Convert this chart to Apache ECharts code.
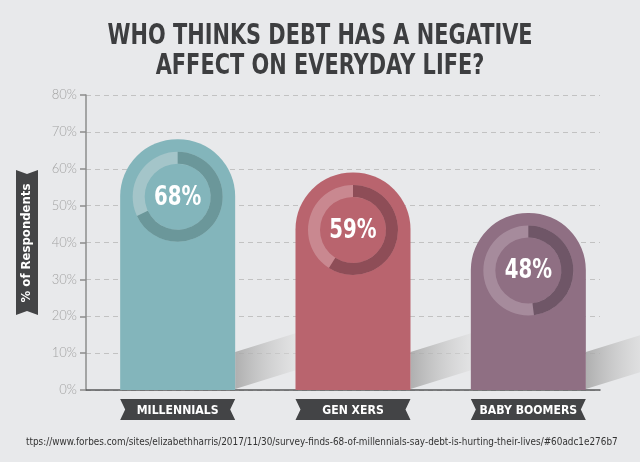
<!DOCTYPE html>
<html>
<head>
<meta charset="utf-8">
<title>Debt chart</title>
<script src="https://cdn.jsdelivr.net/npm/echarts@6/dist/echarts.min.js"></script>
<style>
  html, body { margin: 0; padding: 0; background: #e8e9eb; }
  #chart { width: 640px; height: 462px; }
</style>
</head>
<body>
<div id="chart"></div>
<script>
  // 数据
  var categories = ['MILLENNIALS', 'GEN XERS', 'BABY BOOMERS']
  var values = [68, 59, 48]
  var yMin = 0
  var yMax = 80
  var yStep = 10
  var titleLines = ['WHO THINKS DEBT HAS A NEGATIVE', 'AFFECT ON EVERYDAY LIFE?']
  var yName = '% of Respondents'
  var sourceText = 'ttps://www.forbes.com/sites/elizabethharris/2017/11/30/survey-finds-68-of-millennials-say-debt-is-hurting-their-lives/#60adc1e276b7'

  // 颜色: 柱子, 圆环深色, 圆环浅色
  var barColors = ['#83b5bb', '#b9646e', '#8f6f83']
  var ringDark = ['#6b979a', '#8e4d57', '#6f5667']
  var ringLight = ['#a4c5c9', '#c98890', '#a68b9c']

  var BAR_W = 115
  var FONT = '"DejaVu Sans", sans-serif'

  var chart = echarts.init(document.getElementById('chart'))

  // 柱子后面的斜影
  function renderShadow (params, api) {
    var base = api.coord([api.value(0), 0])
    var xr = base[0] + BAR_W / 2
    var y = base[1] - 1
    var len = 62
    var rise = len * 0.31
    var thick = 37
    return {
      type: 'polygon',
      shape: {
        points: [[xr, y], [xr + len, y - rise], [xr + len, y - rise - thick], [xr, y - thick]]
      },
      style: {
        fill: new echarts.graphic.LinearGradient(0, 0, 1, 0, [
          { offset: 0, color: 'rgba(165,165,165,0.85)' },
          { offset: 1, color: 'rgba(222,222,222,0.5)' }
        ])
      }
    }
  }

  // 圆环和百分比
  function renderRing (params, api) {
    var idx = params.dataIndex
    var v = api.value(1)
    var top = api.coord([api.value(0), v])
    var cx = top[0]
    var cy = top[1] + BAR_W / 2
    var start = -Math.PI / 2
    return {
      type: 'group',
      children: [
        {
          type: 'sector',
          shape: { cx: cx, cy: cy, r0: 33, r: 45, startAngle: 0, endAngle: Math.PI * 2 },
          style: { fill: ringLight[idx] }
        },
        {
          type: 'sector',
          shape: { cx: cx, cy: cy, r0: 33, r: 45, startAngle: start, endAngle: start + v / 100 * Math.PI * 2, clockwise: true },
          style: { fill: ringDark[idx] }
        },
        {
          type: 'text',
          x: cx,
          y: cy + 1,
          scaleX: 0.76,
          style: {
            text: v + '%', align: 'center', verticalAlign: 'middle',
            fill: '#ffffff', font: 'bold 26px ' + FONT
          }
        }
      ]
    }
  }

  // 分类标签 (丝带形状)
  function renderBadge (params, api) {
    var base = api.coord([api.value(0), 0])
    var x0 = base[0] - BAR_W / 2
    var x1 = base[0] + BAR_W / 2
    var y0 = base[1] + 9
    var y1 = y0 + 21
    var ym = (y0 + y1) / 2
    var n = 5
    return {
      type: 'group',
      children: [
        {
          type: 'polygon',
          shape: { points: [[x0, y0], [x1, y0], [x1 - n, ym], [x1, y1], [x0, y1], [x0 + n, ym]] },
          style: { fill: '#434446' }
        },
        {
          type: 'text',
          x: base[0],
          y: ym + 1,
          scaleX: 0.84,
          style: {
            text: categories[params.dataIndex], align: 'center', verticalAlign: 'middle',
            fill: '#ffffff', font: 'bold 13px ' + FONT
          }
        }
      ]
    }
  }

  var itemData = categories.map(function (c, i) { return [i, values[i]] })

  var option = {
    backgroundColor: '#e8e9eb',
    animation: false,
    grid: [
      { left: 86, right: 40, top: 95, bottom: 72 },
      { left: 90, right: 24, top: 95, bottom: 72 }
    ],
    xAxis: [
      {
        gridIndex: 0,
        type: 'category',
        data: [''],
        axisLine: { lineStyle: { color: '#58595b', width: 1.5 } },
        axisTick: { show: false },
        axisLabel: { show: false }
      },
      {
        gridIndex: 1,
        type: 'category',
        data: categories,
        show: false
      }
    ],
    yAxis: [
      {
        gridIndex: 0,
        type: 'value',
        min: yMin,
        max: yMax,
        interval: yStep,
        axisLine: { show: true, lineStyle: { color: '#8c8c8c', width: 1.5 } },
        axisTick: { show: true, length: 6, lineStyle: { color: '#8c8c8c', width: 1.5 } },
        axisLabel: {
          formatter: '{value}%',
          color: '#a3a3a3',
          fontSize: 13,
          fontFamily: 'Lato, sans-serif',
          fontWeight: 300,
          margin: 9
        },
        splitLine: { lineStyle: { color: '#c2c2c2', type: [5, 4], width: 1.2 } }
      },
      {
        gridIndex: 1,
        type: 'value',
        min: yMin,
        max: yMax,
        interval: yStep,
        show: false
      }
    ],
    graphic: [
      // 标题
      {
        type: 'text',
        x: 320,
        y: 36,
        scaleX: 0.72,
        style: {
          text: titleLines[0], align: 'center', verticalAlign: 'middle',
          fill: '#3d3e40', font: 'bold 29px ' + FONT
        }
      },
      {
        type: 'text',
        x: 320,
        y: 66,
        scaleX: 0.72,
        style: {
          text: titleLines[1], align: 'center', verticalAlign: 'middle',
          fill: '#3d3e40', font: 'bold 29px ' + FONT
        }
      },
      // Y轴名称
      {
        type: 'group',
        x: 16,
        y: 170,
        children: [
          {
            type: 'polygon',
            shape: { points: [[0, 0], [11, 4], [22, 0], [22, 145], [11, 141], [0, 145]] },
            style: { fill: '#434446' }
          },
          {
            type: 'text',
            x: 11,
            y: 73,
            rotation: Math.PI / 2,
            scaleX: 0.9,
            style: {
              text: yName, align: 'center', verticalAlign: 'middle',
              fill: '#ffffff', font: 'bold 13px ' + FONT
            }
          }
        ]
      },
      // 来源
      {
        type: 'text',
        x: 26,
        y: 442,
        scaleX: 0.845,
        style: {
          text: sourceText, align: 'left', verticalAlign: 'middle',
          fill: '#333333', font: '10.5px ' + FONT
        }
      }
    ],
    series: [
      {
        type: 'custom',
        xAxisIndex: 1,
        yAxisIndex: 1,
        z: 1,
        renderItem: renderShadow,
        data: itemData
      },
      {
        type: 'bar',
        xAxisIndex: 1,
        yAxisIndex: 1,
        z: 2,
        barWidth: BAR_W,
        data: values.map(function (v, i) {
          return {
            value: v,
            itemStyle: { color: barColors[i], borderRadius: [57, 57, 0, 0] }
          }
        })
      },
      {
        type: 'custom',
        xAxisIndex: 1,
        yAxisIndex: 1,
        z: 3,
        renderItem: renderRing,
        data: itemData
      },
      {
        type: 'custom',
        xAxisIndex: 1,
        yAxisIndex: 1,
        z: 3,
        renderItem: renderBadge,
        data: itemData
      }
    ]
  }

  chart.setOption(option)
</script>
</body>
</html>
